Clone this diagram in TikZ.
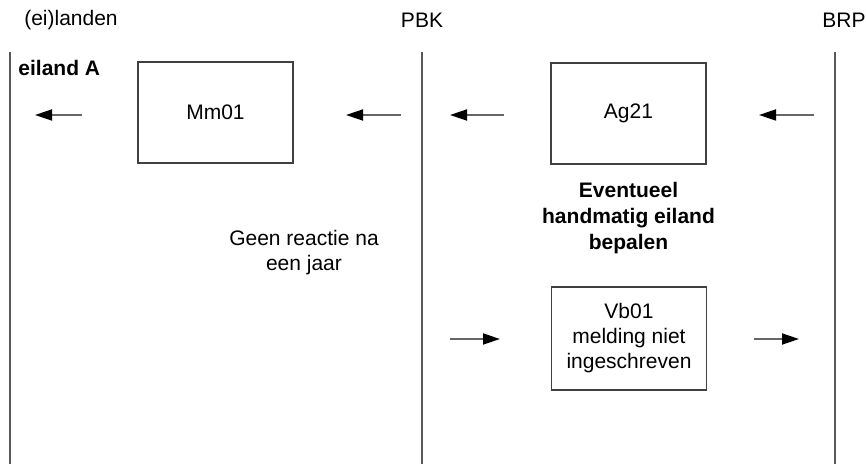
\documentclass[tikz,border=0pt]{standalone}
\usepackage{fontspec}
\setmainfont{Liberation Sans}
\usetikzlibrary{arrows.meta}
\tikzset{
  msgbox/.style={draw=black!75,line width=0.6pt,minimum width=77.5pt,minimum height=50.5pt,align=center,inner sep=0pt},
  lifeline/.style={draw=black!65,line width=0.75pt},
  msgarrow/.style={draw=black!60,line width=0.9pt,-{Triangle[length=8.5pt,width=5.5pt,color=black]}}
}
\begin{document}
\begin{tikzpicture}[x=0.5pt,y=-0.5pt,font=\fontsize{10.5}{12.5}\selectfont]
            \useasboundingbox (0,0) rectangle (866,464);

            % lifelines
            \node (landen) at (71,20) {(ei)landen};
            \node (pbk) at (422,20) {PBK};
            \node[anchor=east,inner sep=0pt] (brp) at (866,20) {BRP};
            \draw[lifeline] (10,52) -- (10,464);
            \draw[lifeline] (422,52) -- (422,464);
            \draw[lifeline] (835,52) -- (835,464);
            \node[anchor=west,inner sep=0pt,font=\fontsize{10.5}{12.5}\selectfont\bfseries] (eilandA) at (18,68) {eiland A};

            % messages
            \node[msgbox] (mm01) at (215.5,112.5) {Mm01};
            \node[msgbox] (ag21) at (628.5,113.5) {Ag21};
            \node[msgbox,minimum height=51.5pt] (vb01) at (629,338.5) {Vb01\\melding niet\\ingeschreven};

            % notes
            \node[align=center] (geen) at (304,253) {Geen reactie na\\een jaar};
            \node[align=center,font=\fontsize{10.5}{13}\selectfont\bfseries] (handmatig) at (628.5,218) {Eventueel\\handmatig eiland\\bepalen};

            % arrows
            \coordinate (a1s) at (82,115);   \coordinate (a1e) at (35,115);
            \coordinate (a2s) at (401,115);  \coordinate (a2e) at (346,115);
            \coordinate (a3s) at (504,115);  \coordinate (a3e) at (450,115);
            \coordinate (a4s) at (814,115);  \coordinate (a4e) at (759,115);
            \coordinate (b1s) at (450,339);  \coordinate (b1e) at (500,339);
            \coordinate (b2s) at (754,339);  \coordinate (b2e) at (799,339);
            \draw[msgarrow] (a1s) -- (a1e);
            \draw[msgarrow] (a2s) -- (a2e);
            \draw[msgarrow] (a3s) -- (a3e);
            \draw[msgarrow] (a4s) -- (a4e);
            \draw[msgarrow] (b1s) -- (b1e);
            \draw[msgarrow] (b2s) -- (b2e);
        \end{tikzpicture}
\end{document}
